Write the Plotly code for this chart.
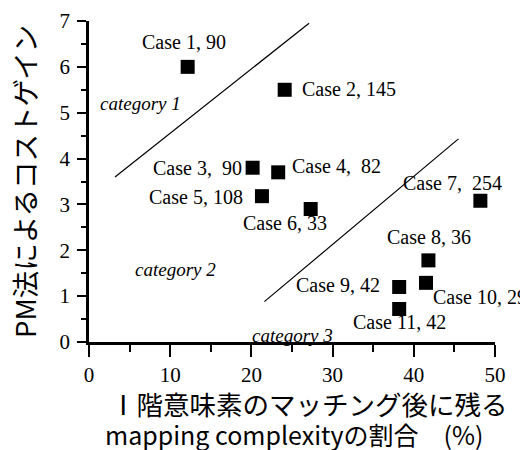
import plotly.graph_objects as go

# ---- data ----
case_labels = ["Case 1, 90", "Case 2, 145", "Case 3,\u00a0 90", "Case 4,\u00a0 82",
               "Case 5, 108", "Case 6, 33", "Case 7,\u00a0 254", "Case 8, 36",
               "Case 9, 42", "Case 10, 29", "Case 11, 42"]
x_vals = [12.15, 24.1, 20.15, 23.3, 21.3, 27.3, 48.2, 41.8, 38.2, 41.5, 38.2]
y_vals = [6.0, 5.5, 3.8, 3.7, 3.18, 2.9, 3.08, 1.78, 1.2, 1.29, 0.72]

boundary1_x = [3.2, 27.1]
boundary1_y = [3.6, 6.95]
boundary2_x = [21.6, 45.5]
boundary2_y = [0.88, 4.43]

category_labels = ["category 1", "category 2", "category 3"]
category_x = [6.4, 10.7, 25.0]
category_y = [5.2, 1.58, 0.15]

x_ticks = [0, 10, 20, 30, 40, 50]
y_ticks = [0, 1, 2, 3, 4, 5, 6, 7]

y_title = "PM法によるコストゲイン"
x_title_1 = "Ⅰ階意味素のマッチング後に残る"
x_title_2 = "mapping complexityの割合\u3000(%)"

# ---- label placement (style) ----
label_anchor = ["center", "left", "right", "left", "right", "center",
                "right", "center", "right", "left", "center"]
label_dx = [-4, 15, -9, 12, -17, -26, 24, 1, -17, 5, 0]
label_dy = [25, 1, 0, 6, -1, -14, 18, 23, 2, -14, -13]

SERIF = "Liberation Serif"
SANS = "Noto Sans CJK JP"

# page offset of the figure inside the browser page (body margin)
OFF = 8
L, T = 81, 12.7
W, H = 406, 321.8


def px(sx, sy):
    """screen pixel -> paper coords"""
    return (sx - OFF - L) / W, 1 - (sy - OFF - T) / H


fig = go.Figure()

fig.add_trace(go.Scatter(x=boundary1_x, y=boundary1_y, mode="lines",
                         line=dict(color="black", width=1.2),
                         hoverinfo="skip", showlegend=False))
fig.add_trace(go.Scatter(x=boundary2_x, y=boundary2_y, mode="lines",
                         line=dict(color="black", width=1.2),
                         hoverinfo="skip", showlegend=False))
fig.add_trace(go.Scatter(x=x_vals, y=y_vals, mode="markers",
                         marker=dict(symbol="square", size=14, color="black"),
                         cliponaxis=False, showlegend=False))

for i, txt in enumerate(case_labels):
    fig.add_annotation(x=x_vals[i], y=y_vals[i], text=txt, showarrow=False,
                       xanchor=label_anchor[i], yanchor="middle",
                       xshift=label_dx[i], yshift=label_dy[i],
                       font=dict(family=SERIF, size=20, color="black"))

for i, txt in enumerate(category_labels):
    fig.add_annotation(x=category_x[i], y=category_y[i], text="<i>" + txt + "</i>",
                       showarrow=False, xanchor="center", yanchor="middle",
                       font=dict(family=SERIF, size=19, color="black"))

# axis titles as text annotations
yx, yy = px(23.5, 181.6)
fig.add_annotation(xref="paper", yref="paper", x=yx, y=yy, text=y_title,
                   textangle=-90, showarrow=False, xanchor="center", yanchor="middle",
                   font=dict(family=SANS, size=27.5, color="black"))
x1x, x1y = px(309, 404)
fig.add_annotation(xref="paper", yref="paper", x=x1x, y=x1y,
                   text=x_title_1, showarrow=False, xanchor="center", yanchor="middle",
                   font=dict(family=SANS, size=26.5, color="black"))
x2x, x2y = px(294, 435)
fig.add_annotation(xref="paper", yref="paper", x=x2x, y=x2y,
                   text=x_title_2, showarrow=False, xanchor="center", yanchor="middle",
                   font=dict(family=SANS, size=25, color="black"))

fig.update_xaxes(range=[0, 50], tickvals=x_ticks, showgrid=False, zeroline=False,
                 automargin=False,
                 showline=True, linecolor="black", linewidth=2.5,
                 ticks="outside", ticklen=12, tickwidth=1.8, tickcolor="black",
                 minor=dict(dtick=5, ticks="outside", ticklen=7, tickwidth=1.5,
                            tickcolor="black", showgrid=False),
                 ticklabelstandoff=0,
                 tickfont=dict(family=SERIF, size=21, color="black"))
fig.update_yaxes(range=[0, 7], tickvals=y_ticks, showgrid=False, zeroline=False,
                 automargin=False,
                 showline=True, linecolor="black", linewidth=2.5,
                 ticks="outside", ticklen=9, tickwidth=1.8, tickcolor="black",
                 minor=dict(dtick=0.5, ticks="outside", ticklen=5, tickwidth=1.5,
                            tickcolor="black", showgrid=False),
                 ticklabelstandoff=3,
                 tickfont=dict(family=SERIF, size=21, color="black"))

fig.update_layout(width=528, height=450,
                  margin=dict(l=L, r=528 - L - W, t=T, b=450 - T - H),
                  plot_bgcolor="white", paper_bgcolor="white",
                  showlegend=False)

fig.write_html("out.html")
